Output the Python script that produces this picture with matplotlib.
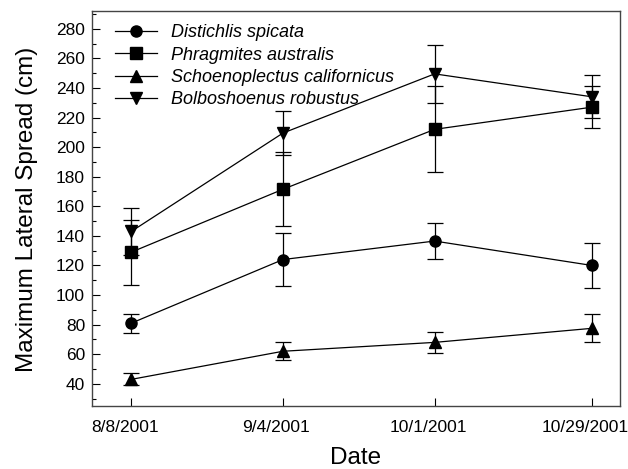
import matplotlib
matplotlib.use('Agg')
import matplotlib.pyplot as plt
from matplotlib.ticker import MultipleLocator
from matplotlib.lines import Line2D
import matplotlib.transforms as mtrans

plt.rcParams['font.family'] = ['Liberation Sans', 'DejaVu Sans']

# sampling dates, as days after 8/8/2001
dates = ['8/8/2001', '9/4/2001', '10/1/2001', '10/29/2001']
days = [0, 27, 54, 82]

species = ['Distichlis spicata', 'Phragmites australis',
           'Schoenoplectus californicus', 'Bolboshoenus robustus']
spread = [
    [81, 124, 136.5, 120],
    [129, 171.5, 212, 227],
    [43, 62, 68, 77.5],
    [143, 209.5, 249.5, 234],
]
err = [
    [6.5, 18, 12, 15],
    [22, 25, 29, 14],
    [4, 6, 7, 9.5],
    [16, 15, 19.5, 14.5],
]
markers = ['o', 's', '^', 'v']

fig = plt.figure(figsize=(6.28, 4.69), dpi=100)
ax = fig.add_axes([92 / 628, 1 - 406 / 469, (620 - 92) / 628, (406 - 11) / 469])

handles = []
for name, y, e, m in zip(species, spread, err, markers):
    ax.errorbar(days, y, yerr=e, color='black', marker=m, markersize=8,
                linewidth=0.9, elinewidth=0.9, capsize=6, capthick=0.9)
    handles.append(Line2D([], [], color='black', marker=m, markersize=8,
                          linewidth=0.9, label=name))

ax.set_xlim(-7, 87)
ax.set_ylim(25, 292)
ax.set_xticks(days)
ax.set_xticklabels(dates)
ax.yaxis.set_major_locator(MultipleLocator(20))
ax.yaxis.set_minor_locator(MultipleLocator(10))
ax.set_yticks(range(40, 281, 20))
ax.tick_params(axis='both', direction='in', labelsize=12.5, length=6, width=0.8)
ax.tick_params(axis='y', which='minor', direction='in', length=3, width=0.8)
ax.tick_params(axis='x', pad=10)
ax.tick_params(axis='y', pad=5)
# date labels sit a little left of their ticks in the original
shift = mtrans.ScaledTranslation(-6.5 / 100, 0, fig.dpi_scale_trans)
for lab in ax.get_xticklabels():
    lab.set_transform(lab.get_transform() + shift)
for s in ax.spines.values():
    s.set_color('#444444')
    s.set_linewidth(1)

ax.set_xlabel('Date', fontsize=17.5, labelpad=9)
ax.set_ylabel('Maximum Lateral Spread (cm)', fontsize=17.5)
ax.yaxis.set_label_coords(-0.103, 0.497)

leg = ax.legend(handles=handles, loc='upper left', bbox_to_anchor=(0.03, 0.985),
                frameon=False, fontsize=13, handlelength=2.3, labelspacing=0.3,
                borderaxespad=0.0, handletextpad=0.8, borderpad=0.4)
for t in leg.get_texts():
    t.set_style('italic')

fig.savefig('out.png', dpi=100)
